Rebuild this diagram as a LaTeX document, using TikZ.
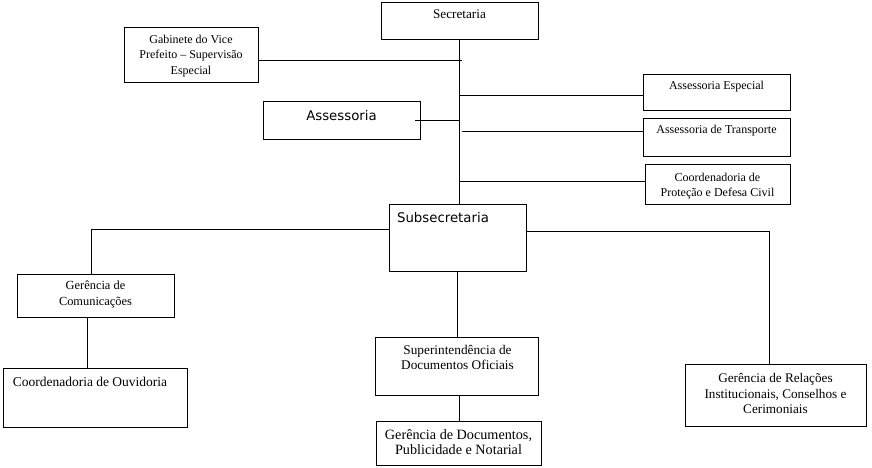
\documentclass[tikz,border=0pt]{standalone}
\usepackage{fontspec}
\setmainfont{Liberation Serif}
\newfontfamily\verdfont{DejaVu Sans}
\tikzset{
  unit/.style={draw, line width=0.8pt, inner sep=0pt},
  txt/.style={align=center, inner sep=0pt, font=\fontsize{#1}{15.5}\selectfont},
  txt/.default=12,
  txtsans/.style={align=center, inner sep=0pt, font=\verdfont\fontsize{13.3}{15}\selectfont},
  link/.style={line width=0.8pt}
}
\begin{document}
\begin{tikzpicture}[x=1pt,y=-1pt]
    \useasboundingbox (0,0) rectangle (872,468);

    % Top level
    \node[unit, minimum width=157pt, minimum height=37pt] (sec) at (459.5,20.5) {};
    \node[txt=13.2] (sec-t) at (459.5,14) {Secretaria};

    % Left side units
    \node[unit, minimum width=134pt, minimum height=55pt] (gab) at (191,54.5) {};
    \node[txt] (gab-t) at (191,56) {Gabinete do Vice\\Prefeito -- Supervisão\\Especial};

    \node[unit, minimum width=157pt, minimum height=38pt] (ass) at (341.5,120) {};
    \node[txtsans] (ass-t) at (341.5,116) {Assessoria};

    % Right side units
    \node[unit, minimum width=147pt, minimum height=36pt] (aesp) at (716.5,92) {};
    \node[txt] (aesp-t) at (716.5,87) {Assessoria Especial};

    \node[unit, minimum width=147pt, minimum height=38pt] (atr) at (716.5,137) {};
    \node[txt] (atr-t) at (716.5,131) {Assessoria de Transporte};

    \node[unit, minimum width=145pt, minimum height=40pt] (cpdc) at (717.5,184) {};
    \node[txt] (cpdc-t) at (717.5,186) {Coordenadoria de\\Proteção e Defesa Civil};

    % Subsecretaria and below
    \node[unit, minimum width=137pt, minimum height=67pt] (sub) at (457.5,237.5) {};
    \node[txtsans] (sub-t) at (443,218) {Subsecretaria};

    \node[unit, minimum width=157pt, minimum height=43pt] (gcom) at (95.5,295.5) {};
    \node[txt=12.4] (gcom-t) at (95.5,294.5) {Gerência de\\Comunicações};

    \node[unit, minimum width=184pt, minimum height=59pt] (couv) at (95,397.5) {};
    \node[txt=13.5] (couv-t) at (90,381.5) {Coordenadoria de Ouvidoria};

    \node[unit, minimum width=163pt, minimum height=58pt] (sup) at (456.5,366) {};
    \node[txt=13.3] (sup-t) at (457.5,357.5) {Superintendência de\\Documentos Oficiais};

    \node[unit, minimum width=165pt, minimum height=44pt] (gdoc) at (458.5,443) {};
    \node[txt=14.2] (gdoc-t) at (458.5,442) {Gerência de Documentos,\\Publicidade e Notarial};

    \node[unit, minimum width=181pt, minimum height=62pt] (grel) at (775.5,395) {};
    \node[txt=13.2] (grel-t) at (775.5,393.5) {Gerência de Relações\\Institucionais, Conselhos e\\Cerimoniais};

    % Main trunk
    \draw[link] ([xshift=-0.5pt]sec.south) -- ([xshift=-0.5pt]sec.south |- sub.north);

    % Branches off the trunk
    \draw[link] ([yshift=-5.5pt]gab.east) -- ([xshift=2.5pt,yshift=-5.5pt]gab.east -| sec.south);
    \draw[link] ([xshift=-5pt]ass.east) -- ([xshift=-0.5pt]ass.east -| sec.south);
    \draw[link] ([yshift=-3pt]aesp.west) -- ([xshift=-0.5pt,yshift=-3pt]aesp.west -| sec.south);
    \draw[link] ([yshift=6pt]atr.west) -- ([xshift=2.5pt,yshift=6pt]atr.west -| sec.south);
    \draw[link] ([yshift=3pt]cpdc.west) -- ([xshift=-0.5pt,yshift=3pt]cpdc.west -| sec.south);

    % Branches off the Subsecretaria
    \draw[link] ([yshift=8.5pt]sub.west) -| ([xshift=-4.5pt]gcom.north);
    \draw[link] ([yshift=6.5pt]sub.east) -| ([xshift=-6.5pt]grel.north);
    \draw[link] (sub.south) -- (sub.south |- sup.north);
    \draw[link] ([xshift=-8.5pt]gcom.south) -- ([xshift=-8.5pt]gcom.south |- couv.north);
    \draw[link] ([xshift=2.5pt]sup.south) -- ([xshift=2.5pt]sup.south |- gdoc.north);
\end{tikzpicture}
\end{document}
